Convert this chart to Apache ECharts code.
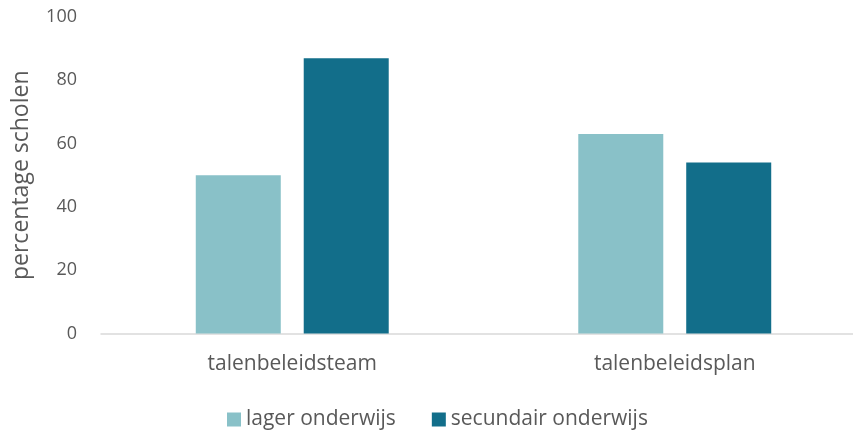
<!DOCTYPE html>
<html><head><meta charset="utf-8">
<script src="https://cdn.jsdelivr.net/npm/echarts@6/dist/echarts.min.js"></script>
<style>html,body{margin:0;padding:0;background:#fff}#c{width:853px;height:432px}</style>
</head><body><div id="c"></div>
<script>
var categories = ['talenbeleidsteam', 'talenbeleidsplan'];
var lagerOnderwijs = [50, 63];
var secundairOnderwijs = [87, 54];
var seriesNames = ['lager onderwijs', 'secundair onderwijs'];
var yAxisTitle = 'percentage scholen';

var font = '"Open Sans", Lato, sans-serif';
var txt = '#595959';
var chart = echarts.init(document.getElementById('c'));
chart.setOption({
  animation: false,
  grid: {left: 101, top: 17, width: 765, bottom: 98.5, containLabel: false, outerBoundsMode: 'none'},
  legend: {
    left: 222, top: 404, itemWidth: 14, itemHeight: 14, itemGap: 36,
    icon: 'rect',
    textStyle: {color: txt, fontSize: 21, fontFamily: font, padding: [0,0,0,0]},
    data: seriesNames
  },
  xAxis: {
    type: 'category', data: categories,
    axisLine: {show: true, lineStyle: {color: '#d9d9d9', width: 1.5}},
    axisTick: {show: false},
    axisLabel: {color: txt, fontSize: 21, fontFamily: font, margin: 20}
  },
  yAxis: {
    type: 'value', min: 0, max: 100, interval: 20,
    name: yAxisTitle, nameLocation: 'middle', nameGap: 68,
    nameTextStyle: {color: txt, fontSize: 23, fontFamily: font},
    axisLine: {show: false}, axisTick: {show: false},
    splitLine: {show: false},
    axisLabel: {color: txt, fontSize: 18, fontFamily: font, margin: 24}
  },
  series: [
    {name: seriesNames[0], type: 'bar', data: lagerOnderwijs, barWidth: 85, barGap: '27%',
     itemStyle: {color: '#89c1c8'}},
    {name: seriesNames[1], type: 'bar', data: secundairOnderwijs, barWidth: 85,
     itemStyle: {color: '#126e8a'}}
  ]
});
</script></body></html>
